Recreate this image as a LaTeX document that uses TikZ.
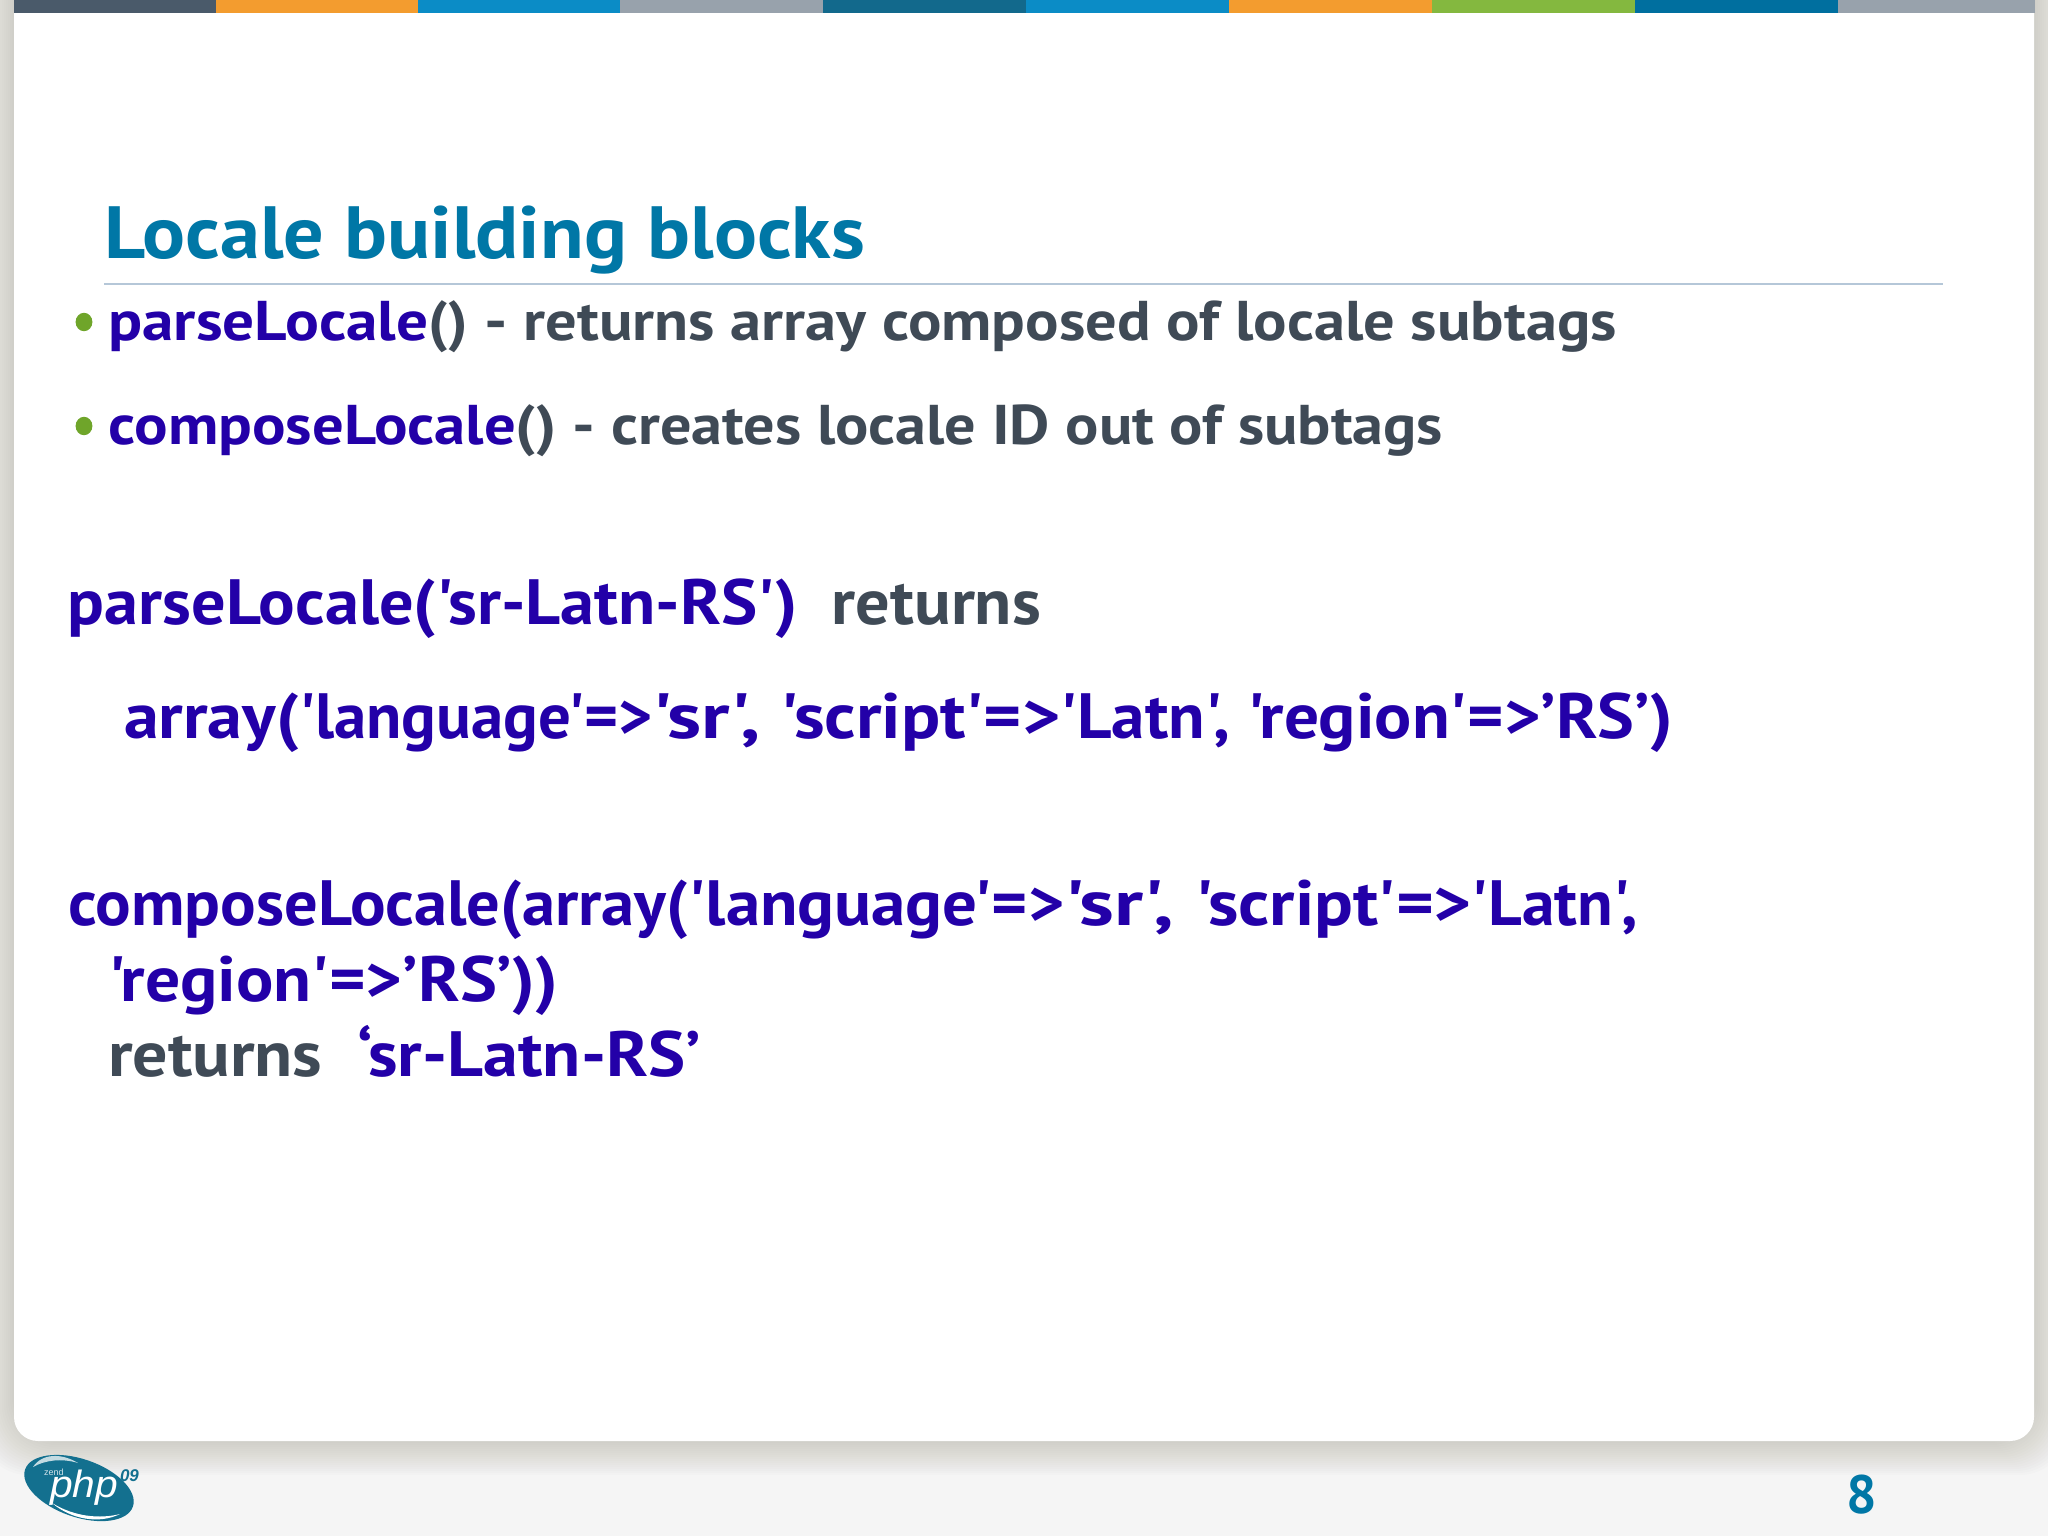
\documentclass[tikz,border=0pt]{standalone}
\usepackage{fontspec}
\usetikzlibrary{calc}
\newfontfamily\bodyfont{PT Sans Bold}
\newfontfamily\numfont{PT Sans Bold}
\newfontfamily\logofont{Liberation Sans}
\definecolor{bluetx}{HTML}{2300A8}
\definecolor{graytx}{HTML}{3F4A56}
\definecolor{tealtx}{HTML}{0077A6}
\definecolor{greendot}{HTML}{6FA52A}
\definecolor{rulec}{HTML}{B5C7D8}
\definecolor{bgc}{HTML}{F5F5F5}
\definecolor{logoc}{HTML}{13708F}
% set #2 so that its width is #1 px (1 px = 0.5 pt)
\newcommand{\fitw}[2]{\sbox0{#2}\pgfmathsetmacro{\myr}{((#1)*0.5)/(\wd0/1pt)}\scalebox{\myr}[1]{\usebox0}}
\newcommand{\bl}[1]{\textcolor{bluetx}{#1}}
\newcommand{\gr}[1]{\textcolor{graytx}{#1}}
\tikzset{
  txt/.style={anchor=base west,inner sep=0pt,outer sep=0pt},
  lineA/.style={txt,font=\fontsize{28}{28}\selectfont\bodyfont},
  lineB/.style={txt,font=\fontsize{32}{32}\selectfont\bodyfont},
  titletx/.style={txt,text=tealtx,font=\fontsize{37}{37}\selectfont\bodyfont},
  dot/.style={fill=greendot},
  logotx/.style={inner sep=0pt,outer sep=0pt,anchor=base west}
}
\begin{document}
\begin{tikzpicture}[x=0.5pt,y=-0.5pt]
\useasboundingbox (0,0) rectangle (2048,1536);
\clip (0,0) rectangle (2048,1536);
\fill[bgc] (0,0) rectangle (2048,1536);
% card shadow
\foreach \r in {34,32,...,2}{
  \fill[black!70!olive,opacity=0.011,rounded corners=24pt] (14-\r,-80) rectangle (2034+\r,1441+\r);
}
% card
\fill[white,rounded corners=12pt] (14,-80) rectangle (2034,1441);
% colour bar
\foreach \a/\b/\c in {14/216/4A5A6A,216/418/F39C2F,418/620/0B8CC6,620/823/98A2AC,823/1026/12698C,1026/1229/0B8CC6,1229/1432/F39C2F,1432/1635/84B83F,1635/1838/006F9F,1838/2035/98A2AC}{
  \definecolor{segc}{HTML}{\c}
  \fill[segc] (\a,0) rectangle (\b,13);
}
% title and rule
\node[titletx] (title) at (104,258) {\fitw{761}{Locale building blocks}};
\coordinate (ruleL) at (104,283.5);
\coordinate (ruleR) at (1943,283.5);
\draw[rulec,line width=1pt] (ruleL) -- (ruleR);
% bullets
\fill[dot] (84,322) ellipse [x radius=4.2pt,y radius=4.6pt];
\fill[dot] (84,426) ellipse [x radius=4.2pt,y radius=4.6pt];
\node[lineA] (b1) at (108.5,340) {\fitw{(328-83)*1.306}{\bl{parseLocale}}\fitw{(358-328)*1.306}{\gr{()}}\fitw{(401-358)*1.306}{\gr{\ -\ }}\fitw{(1238-401)*1.306}{\gr{returns array composed of locale subtags}}};
\node[lineA] (b2) at (108.5,444) {\fitw{(395-83)*1.306}{\bl{composeLocale}}\fitw{(426-395)*1.306}{\gr{()}}\fitw{(468-426)*1.306}{\gr{\ -\ }}\fitw{(1105-468)*1.306}{\gr{creates locale ID out of subtags}}};
% code
\node[lineB] (p1) at (68,624) {\fitw{973}{\bl{parseLocale('sr-Latn-RS')}\gr{\ \ returns}}};
\node[lineB] (p2) at (124,738) {\fitw{(229-95)*1.306}{\bl{array(}}\fitw{(500-229)*1.306}{\bl{'language'=>}}\fitw{(598-500)*1.306}{\bl{'sr',\ }}\fitw{(812-598)*1.306}{\bl{'script'=>}}\fitw{(955-812)*1.306}{\bl{'Latn',\ }}\fitw{(1281-955)*1.306}{\bl{'region'=>’RS’)}}};
\node[lineB] (c1) at (68,925) {\fitw{(527-52)*1.306}{\bl{composeLocale(array(}}\fitw{(815-527)*1.306}{\bl{'language'=>}}\fitw{(915-815)*1.306}{\bl{'sr',\ }}\fitw{(1127-915)*1.306}{\bl{'script'=>}}\fitw{(1254-1127)*1.306}{\bl{'Latn',}}};
\node[lineB] (c2) at (108,1001) {\fitw{450}{\bl{'region'=>’RS’))}}};
\node[lineB] (c3) at (108,1076) {\fitw{593}{\gr{returns\ \ }\bl{‘sr-Latn-RS’}}};
% page number
\node[txt,text=tealtx,font=\fontsize{27}{27}\selectfont\numfont] (num) at (1846,1513) {8};
% logo
\begin{scope}
\fill[logoc,rotate around={-19:(79,1488)}] (79,1488) ellipse [x radius=28.5pt,y radius=14.5pt];
\fill[white,opacity=0.75] (33,1467) .. controls (42,1453) and (62,1453) .. (78,1463) .. controls (62,1458) and (45,1460) .. (33,1467) -- cycle;
\fill[white] (52,1503) .. controls (75,1517) and (100,1519) .. (120,1514) .. controls (100,1524) and (72,1520) .. (52,1503) -- cycle;
\end{scope}
\node[logotx,text=white,font=\fontsize{19}{19}\selectfont\logofont\itshape] (php) at (50,1497) {\fitw{68}{php}};
\node[logotx,text=white!80!logoc,font=\fontsize{4.5}{4.5}\selectfont\logofont] (zend) at (44,1475) {zend};
\node[logotx,text=logoc,font=\fontsize{8.5}{8.5}\selectfont\logofont\bfseries\itshape] (yr) at (120,1481) {09};
\end{tikzpicture}
\end{document}
